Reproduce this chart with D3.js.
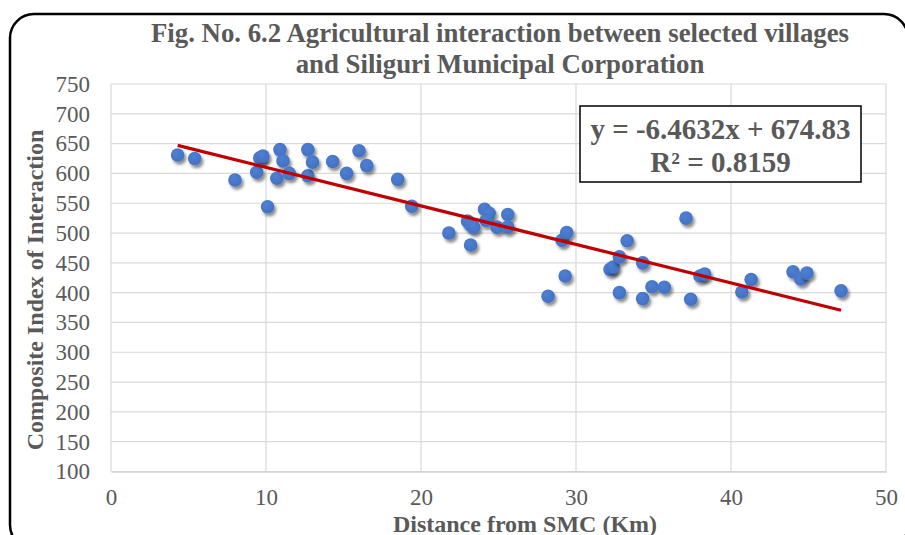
<!DOCTYPE html>
<html>
<head>
<meta charset="utf-8">
<script src="https://cdn.jsdelivr.net/npm/d3@7/dist/d3.min.js"></script>
<style>
  html, body { margin: 0; padding: 0; background: #fff; }
  svg { display: block; }
</style>
</head>
<body>
<script>
// ---- Data ----
const distanceKm = [4.3, 5.4, 8.0, 9.4, 9.6, 9.8, 10.1, 10.7, 10.9, 11.1, 11.5, 12.7, 12.7, 13.0, 14.3, 15.2, 16.0, 16.5, 18.5, 19.4,
  21.8, 23.0, 23.2, 23.4, 23.2, 24.1, 24.4, 24.2, 24.9, 25.6, 25.6, 28.2, 29.1, 29.4, 29.3,
  32.2, 32.4, 32.8, 33.3, 32.8, 34.3, 34.3, 34.9, 35.7, 37.1, 37.4, 38.0, 38.3, 40.7, 41.3, 44.0, 44.5, 44.9, 47.1];
const interactionIndex = [631, 625, 589, 602, 626, 629, 544, 592, 640, 621, 600, 640, 596, 619, 620, 600, 638, 613, 590, 545,
  500, 520, 514, 510, 480, 540, 533, 521, 510, 531, 510, 394, 488, 501, 428,
  439, 443, 460, 487, 400, 450, 390, 410, 409, 525, 389, 428, 431, 401, 422, 435, 423, 433, 403];
const xTicks = [0, 10, 20, 30, 40, 50];
const yTicks = [100, 150, 200, 250, 300, 350, 400, 450, 500, 550, 600, 650, 700, 750];
const trendSlope = -6.4632;
const trendIntercept = 674.83;
const equationLines = ["y = -6.4632x + 674.83", "R² = 0.8159"];
const titleLines = ["Fig. No. 6.2 Agricultural interaction between selected villages", "and Siliguri Municipal Corporation"];
const xAxisTitle = "Distance from SMC (Km)";
const yAxisTitle = "Composite Index of Interaction";

// ---- Layout ----
const W = 905, H = 535;
const serif = "'Liberation Serif', 'Times New Roman', Times, serif";
const grey = "#595959";

const svg = d3.select("body").append("svg").attr("width", W).attr("height", H);

const defs = svg.append("defs");
const f = defs.append("filter").attr("id", "shadow").attr("x", "-50%").attr("y", "-50%").attr("width", "200%").attr("height", "200%");
f.append("feDropShadow").attr("dx", 2).attr("dy", 3).attr("stdDeviation", 1.8)
  .attr("flood-color", "#000").attr("flood-opacity", 0.45);
const rg = defs.append("radialGradient").attr("id", "dotgrad").attr("cx", "40%").attr("cy", "35%").attr("r", "70%");
rg.append("stop").attr("offset", "0%").attr("stop-color", "#4f7fd3");
rg.append("stop").attr("offset", "100%").attr("stop-color", "#4270c0");

// outer rounded frame
svg.append("rect").attr("x", 10).attr("y", 14).attr("width", 898).attr("height", 535)
  .attr("rx", 24).attr("ry", 24).attr("fill", "none").attr("stroke", "#000").attr("stroke-width", 2.5);

const x = d3.scaleLinear().domain([0, 50]).range([111, 886]);
const y = d3.scaleLinear().domain([100, 750]).range([471.5, 84]);

// gridlines
const grid = svg.append("g");
grid.selectAll("line.h").data(yTicks).join("line")
  .attr("x1", x(0)).attr("x2", x(50)).attr("y1", d => y(d)).attr("y2", d => y(d))
  .attr("stroke", "#d9d9d9").attr("stroke-width", 1.2);
grid.selectAll("line.v").data(xTicks).join("line")
  .attr("y1", y(100)).attr("y2", y(750)).attr("x1", d => x(d)).attr("x2", d => x(d))
  .attr("stroke", "#d9d9d9").attr("stroke-width", 1.2);

// axes (labels via d3 axes)
const xAxis = svg.append("g").attr("transform", `translate(0,${y(100)})`)
  .call(d3.axisBottom(x).tickValues(xTicks).tickSize(0).tickPadding(17).tickFormat(d3.format("d")));
xAxis.select(".domain").attr("stroke", "#d0d0d0").attr("stroke-width", 1.5);
xAxis.selectAll("text").attr("font-family", serif).attr("font-size", 23).attr("fill", grey);

const yAxis = svg.append("g").attr("transform", `translate(${x(0)},0)`)
  .call(d3.axisLeft(y).tickValues(yTicks).tickSize(0).tickPadding(21).tickFormat(d3.format("d")));
yAxis.select(".domain").remove();
yAxis.selectAll("text").attr("font-family", serif).attr("font-size", 23).attr("fill", grey);

// points
const pts = distanceKm.map((d, i) => ({ x: d, y: interactionIndex[i] }));
svg.append("g").selectAll("circle").data(pts).join("circle")
  .attr("cx", d => x(d.x)).attr("cy", d => y(d.y)).attr("r", 6.8)
  .attr("fill", "url(#dotgrad)").attr("filter", "url(#shadow)");

// trendline
const xmin = d3.min(distanceKm), xmax = d3.max(distanceKm);
const trend = [xmin, xmax].map(v => ({ x: v, y: trendSlope * v + trendIntercept }));
svg.append("path").datum(trend)
  .attr("d", d3.line().x(d => x(d.x)).y(d => y(d.y)))
  .attr("stroke", "#c00000").attr("stroke-width", 3.2).attr("fill", "none");

// equation box
const eq = svg.append("g");
eq.append("rect").attr("x", 580).attr("y", 106).attr("width", 281).attr("height", 76)
  .attr("fill", "#fff").attr("stroke", "#000").attr("stroke-width", 1.5);
eq.selectAll("text").data(equationLines).join("text")
  .attr("x", 720.5).attr("y", (d, i) => 138.5 + i * 33)
  .attr("text-anchor", "middle").attr("font-family", serif).attr("font-weight", "bold")
  .attr("font-size", 29).attr("fill", grey).text(d => d);

// title
svg.append("g").selectAll("text").data(titleLines).join("text")
  .attr("x", 500).attr("y", (d, i) => 42 + i * 31)
  .attr("text-anchor", "middle").attr("font-family", serif).attr("font-weight", "bold")
  .attr("font-size", 26.8).attr("fill", grey).text(d => d);

// axis titles
svg.append("text").attr("x", 525).attr("y", 531.5).attr("text-anchor", "middle")
  .attr("font-family", serif).attr("font-weight", "bold").attr("font-size", 24).attr("fill", grey)
  .text(xAxisTitle);
svg.append("text").attr("transform", "translate(43,290) rotate(-90)").attr("text-anchor", "middle")
  .attr("font-family", serif).attr("font-weight", "bold").attr("font-size", 24).attr("fill", grey)
  .text(yAxisTitle);
</script>
</body>
</html>
